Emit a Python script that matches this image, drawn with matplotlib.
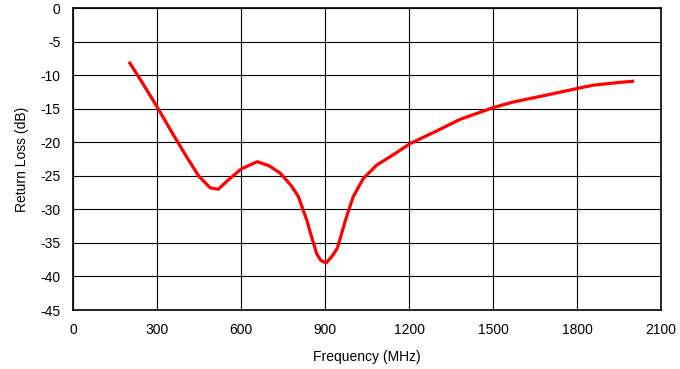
import matplotlib
matplotlib.use("Agg")
import matplotlib.pyplot as plt

freq = [200, 250, 300, 350, 400, 450, 490, 519, 550, 600, 658, 700, 740, 780, 805,
        822, 835, 852, 870, 885, 904, 925, 944, 960, 977, 1001, 1037, 1085, 1150,
        1204, 1300, 1382, 1500, 1573, 1700, 1800, 1858, 1950, 2004]
return_loss = [-8, -11.3, -14.7, -18.3, -21.8, -25.1, -26.8, -27.0, -25.8, -24.0, -22.9,
               -23.5, -24.6, -26.5, -28.1, -30.1, -31.6, -34.1, -36.6, -37.6, -38.0,
               -37.0, -35.8, -33.5, -31.1, -28.1, -25.4, -23.4, -21.7, -20.2, -18.3,
               -16.6, -14.85, -14.0, -12.9, -12.0, -11.5, -11.1, -10.9]
xticks = [0, 300, 600, 900, 1200, 1500, 1800, 2100]
yticks = [0, -5, -10, -15, -20, -25, -30, -35, -40, -45]

plt.rcParams['font.family'] = ['Liberation Sans', 'DejaVu Sans']

fig = plt.figure(figsize=(6.8, 3.69), dpi=100)
ax = fig.add_axes([73/680, 59/369, 588/680, 302/369])
ax.plot(freq, return_loss, color='#ff0000', linewidth=2.3, solid_capstyle='butt', zorder=3)
ax.set_xlim(0, 2100)
ax.set_ylim(-45, 0)
ax.set_xticks(xticks)
ax.set_yticks(yticks)
ax.set_xticklabels([str(t) for t in xticks])
ax.set_yticklabels([str(t) for t in yticks])
ax.grid(True, color='black', linewidth=0.8)
ax.tick_params(length=0, labelsize=10, pad=9)
for s in ax.spines.values():
    s.set_color('black')
    s.set_linewidth(1.2)
ax.set_xlabel('Frequency (MHz)', fontsize=10, labelpad=10)
ax.set_ylabel('Return Loss (dB)', fontsize=10, labelpad=8)
fig.savefig('out.png', dpi=100)
